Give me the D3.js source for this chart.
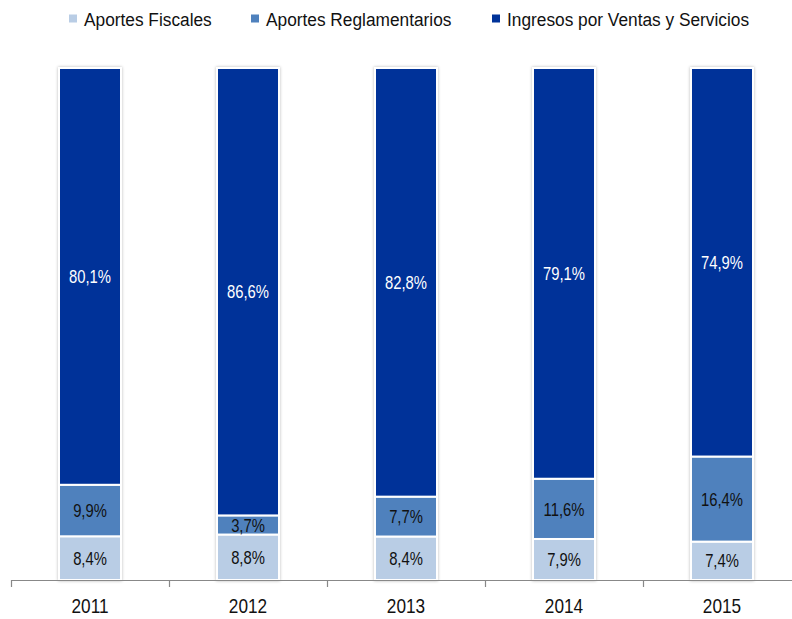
<!DOCTYPE html>
<html>
<head>
<meta charset="utf-8">
<script src="https://cdn.jsdelivr.net/npm/d3@7"></script>
<style>
  body { margin: 0; background: #fff; }
  svg text { font-family: "Liberation Sans", Arial, sans-serif; }
</style>
</head>
<body>
<svg id="svg" width="792" height="619"></svg>
<script>
// data
var years = ["2011", "2012", "2013", "2014", "2015"];
var fiscales = [8.4, 8.8, 8.4, 7.9, 7.4];
var reglamentarios = [9.9, 3.7, 7.7, 11.6, 16.4];
var ingresos = [80.1, 86.6, 82.8, 79.1, 74.9];

var seriesNames = ["Aportes Fiscales", "Aportes Reglamentarios", "Ingresos por Ventas y Servicios"];
var seriesKeys = ["fiscales", "reglamentarios", "ingresos"];
var colors = ["#b9cde5", "#4f81bd", "#003399"];
var labelColors = ["#111", "#111", "#fff"];

var rows = years.map(function(y, i){
  return {year: y, fiscales: fiscales[i], reglamentarios: reglamentarios[i], ingresos: ingresos[i]};
});

var margin = {top: 68, right: 0, bottom: 39, left: 11};
var width = 792, height = 619;
var gwidth = width - margin.left - margin.right;
var gheight = height - margin.top - margin.bottom;

var container = d3.select("#svg");

// soft shadow round the bars
var defs = container.append("defs");
var filt = defs.append("filter").attr("id", "shadow")
    .attr("x", "-20%").attr("y", "-5%").attr("width", "140%").attr("height", "110%");
filt.append("feDropShadow")
    .attr("dx", 0).attr("dy", 0).attr("stdDeviation", 1.6)
    .attr("flood-color", "#000").attr("flood-opacity", 0.28);

var svg = container.append("g")
    .attr("transform", "translate(" + margin.left + "," + margin.top + ")");

var x = d3.scaleBand().domain(years).range([0, 158 * 5]).paddingInner(0).paddingOuter(0);
var y = d3.scaleLinear().domain([0, 1]).range([gheight, 0]);

var stack = d3.stack().keys(seriesKeys).offset(d3.stackOffsetExpand);
var stacked = stack(rows);

var barW = 62;

// bars, one shadowed group per year
var bars = svg.append("g").attr("class", "bars");
years.forEach(function(yr, j){
  var g = bars.append("g").attr("filter", "url(#shadow)");
  stacked.forEach(function(s, k){
    var d = s[j];
    g.append("rect")
      .attr("x", x(yr) + x.bandwidth()/2 - barW/2)
      .attr("width", barW)
      .attr("y", y(d[1]))
      .attr("height", y(d[0]) - y(d[1]))
      .attr("fill", colors[k])
      .attr("stroke", "#fff")
      .attr("stroke-width", 2);
  });
});

// value labels (narrow look via horizontal scale)
stacked.forEach(function(s, k){
  s.forEach(function(d, j){
    var cx = x(years[j]) + x.bandwidth()/2;
    var cy = (y(d[0]) + y(d[1]))/2;
    svg.append("text")
      .attr("transform", "translate(" + cx + "," + cy + ") scale(0.8,1)")
      .attr("dy", "0.36em")
      .attr("text-anchor", "middle")
      .attr("font-size", 18.5)
      .attr("fill", labelColors[k])
      .text(d3.format(".1f")(d.data[seriesKeys[k]]).replace(".", ",") + "%");
  });
});

// x axis
var xAxis = d3.axisBottom(x).tickSize(0);
var ax = svg.append("g")
    .attr("transform", "translate(0," + gheight + ")")
    .call(xAxis);
ax.select(".domain").remove();
ax.selectAll("text")
    .attr("y", 33).attr("dy", 0)
    .attr("font-size", 21).attr("fill", "#111")
    .attr("transform", "scale(0.82,1)")
    .style("font-family", '"Liberation Sans", Arial, sans-serif');

svg.append("line")
    .attr("x1", 0).attr("x2", width - margin.left)
    .attr("y1", gheight + 0.5).attr("y2", gheight + 0.5)
    .attr("stroke", "#888").attr("stroke-width", 1.2);

svg.selectAll(".boundary").data(years).enter()
    .append("line")
    .attr("class", "boundary")
    .attr("x1", function(d){ return x(d) + 0.5; })
    .attr("x2", function(d){ return x(d) + 0.5; })
    .attr("y1", gheight).attr("y2", gheight + 7)
    .attr("stroke", "#888").attr("stroke-width", 1.2);

// legend
var legendX = [69, 251, 492];
var legend = container.append("g").attr("class", "legend");
seriesNames.forEach(function(name, k){
  legend.append("rect")
    .attr("x", legendX[k]).attr("y", 14.5)
    .attr("width", 8).attr("height", 8)
    .attr("fill", colors[k]);
  legend.append("text")
    .attr("transform", "translate(" + (legendX[k] + 15) + ",26) scale(0.91,1)")
    .attr("font-size", 19)
    .attr("fill", "#111")
    .text(name);
});
</script>
</body>
</html>
